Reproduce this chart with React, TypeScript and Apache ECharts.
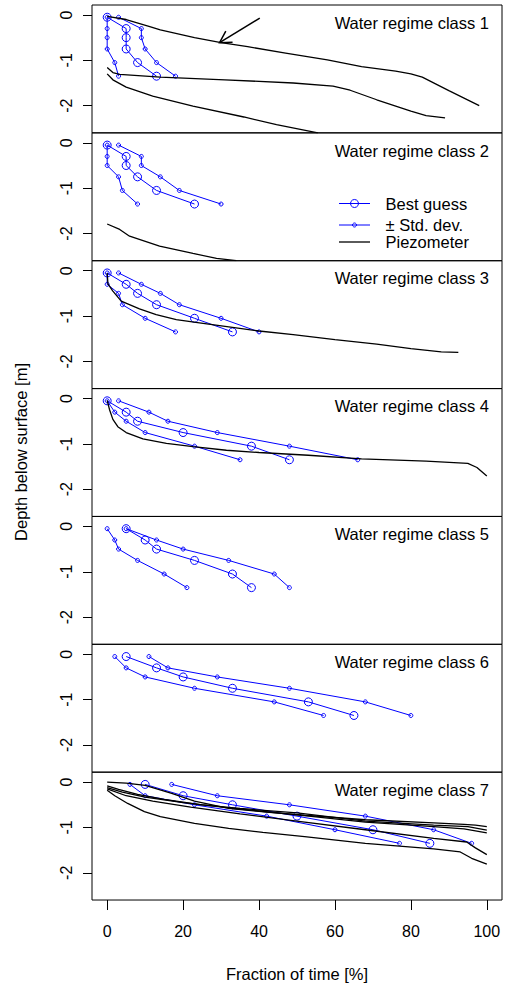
import React, { useEffect, useRef } from "react";
import * as echarts from "echarts";

// ---------- data ----------
const DEPTHS = [-0.05, -0.3, -0.5, -0.75, -1.05, -1.35];
const CLASS_LABELS = [
  "Water regime class 1",
  "Water regime class 2",
  "Water regime class 3",
  "Water regime class 4",
  "Water regime class 5",
  "Water regime class 6",
  "Water regime class 7",
];
const X_TICKS = [0, 20, 40, 60, 80, 100];
const Y_TICKS = [-2, -1, 0];

// Best guess fraction of time [%] per depth, per class
const best1 = [0, 5, 5, 5, 8, 13];
const best2 = [0, 5, 5, 8, 13, 23];
const best3 = [0, 5, 8, 13, 23, 33];
const best4 = [0, 5, 8, 20, 38, 48];
const best5 = [5, 10, 13, 23, 33, 38];
const best6 = [5, 13, 20, 33, 53, 65];
const best7 = [10, 20, 33, 50, 70, 85];

// minus one std. dev.
const low1 = [0, 0, 0, 0, 2, 3];
const low2 = [0, 0, 0, 3, 4, 8];
const low3 = [0, 0, 3, 4, 10, 18];
const low4 = [0, 2, 5, 10, 23, 35];
const low5 = [0, 2, 3, 8, 15, 21];
const low6 = [2, 5, 10, 23, 44, 57];
const low7 = [6, 10, 23, 42, 60, 77];

// plus one std. dev.
const high1 = [3, 9, 9, 10, 13, 18];
const high2 = [3, 9, 9, 14, 19, 30];
const high3 = [3, 9, 14, 19, 30, 40];
const high4 = [3, 11, 16, 29, 48, 66];
const high5 = [5, 13, 20, 32, 44, 48];
const high6 = [11, 16, 29, 48, 68, 80];
const high7 = [17, 29, 48, 68, 86, 96];

// Piezometer duration lines [fraction %, depth m]
const piezo1a = [[0, -0.03], [5, -0.1], [11, -0.25], [14, -0.33], [23, -0.5], [30, -0.61], [37, -0.7], [47, -0.84], [58, -0.99], [67, -1.14], [76, -1.24], [80, -1.3], [83, -1.37], [90, -1.67], [98, -2.0]];
const piezo1b = [[0, -1.16], [1.5, -1.27], [3.3, -1.31], [14, -1.37], [31, -1.43], [49, -1.5], [59.5, -1.57], [64, -1.66], [71, -1.87], [80, -2.12], [84, -2.22], [89, -2.27]];
const piezo1c = [[0, -1.3], [1.5, -1.43], [5, -1.59], [12, -1.79], [22.6, -2.01], [36, -2.25], [44.6, -2.42], [55.5, -2.6]];
const piezo2a = [[0, -1.79], [3.3, -1.91], [5.9, -2.06], [13.8, -2.28], [22.6, -2.44], [28.8, -2.55], [34, -2.6]];
const piezo3a = [[0, -0.05], [0.2, -0.29], [1.5, -0.45], [3.7, -0.67], [8.5, -0.84], [12.9, -0.97], [18.2, -1.08], [24.3, -1.15], [33, -1.25], [40, -1.33], [49, -1.41], [60, -1.52], [71, -1.62], [80, -1.72], [88, -1.79], [92.5, -1.8]];
const piezo4a = [[0, -0.04], [0.6, -0.24], [1.5, -0.46], [2.8, -0.62], [5, -0.75], [9.4, -0.89], [15.6, -0.99], [22.6, -1.06], [31.4, -1.14], [40, -1.19], [53, -1.25], [67, -1.33], [84, -1.38], [95, -1.43], [97.4, -1.52], [100, -1.71]];
const piezo7a = [[0, 0], [5, -0.02], [10, -0.07], [17, -0.25], [23, -0.42], [32, -0.58], [42, -0.66], [52, -0.73], [68, -0.83], [86, -0.9], [94, -0.93], [97, -0.95], [100, -0.98]];
const piezo7b = [[0, -0.08], [3, -0.16], [8, -0.27], [15, -0.38], [25, -0.5], [35, -0.58], [50, -0.68], [68, -0.86], [86, -0.95], [95, -0.98], [100, -1.06]];
const piezo7c = [[0, -0.12], [4, -0.22], [10, -0.33], [20, -0.45], [32, -0.57], [50, -0.72], [68, -0.88], [86, -0.98], [94, -1.03], [100, -1.12]];
const piezo7d = [[0, -0.15], [5, -0.3], [12, -0.42], [22, -0.55], [35, -0.7], [51, -0.87], [68, -1.05], [86, -1.24], [94.7, -1.32], [97, -1.45], [100, -1.6]];
const piezo7e = [[0, -0.18], [2, -0.3], [5.4, -0.47], [9.8, -0.65], [14, -0.76], [23, -0.91], [32, -1.02], [41, -1.11], [52, -1.2], [68, -1.35], [86, -1.47], [93, -1.54], [96, -1.68], [100, -1.81]];

// Arrow annotation in class 1: [fromX, fromY, toX, toY]
const arrow1 = [40.2, -0.07, 29.6, -0.61];

const BEST = [best1, best2, best3, best4, best5, best6, best7];
const LOW = [low1, low2, low3, low4, low5, low6, low7];
const HIGH = [high1, high2, high3, high4, high5, high6, high7];
const PIEZO = [[piezo1a, piezo1b, piezo1c], [piezo2a], [piezo3a], [piezo4a], [], [], [piezo7a, piezo7b, piezo7c, piezo7d, piezo7e]];

// ---------- layout / style ----------
const FONT = "'Liberation Sans', Arial, Helvetica, sans-serif";
const BLUE = "#0000ff";
const W = 507;
const H = 983;
const GRID_LEFT = 92;
const GRID_W = 410;
const GRID_TOP = 5;
const PH = 127.86;

export default function App() {
  const ref = useRef<HTMLDivElement>(null);

  useEffect(() => {
    if (!ref.current) return;
    const chart = echarts.init(ref.current, null, { renderer: "svg" });
    const n = CLASS_LABELS.length;

    const grid = CLASS_LABELS.map((_, i) => ({
      left: GRID_LEFT,
      width: GRID_W,
      top: GRID_TOP + i * PH,
      height: PH,
      show: true,
      borderColor: "#000",
      borderWidth: 1,
      backgroundColor: "transparent",
    }));

    const xAxis = CLASS_LABELS.map((_, i) => ({
      type: "value",
      gridIndex: i,
      min: -4,
      max: 104,
      show: i === n - 1,
      axisLine: { show: false, onZero: false },
      axisTick: {
        show: true,
        customValues: X_TICKS,
        length: 10,
        lineStyle: { color: "#000", width: 1 },
      },
      axisLabel: {
        customValues: X_TICKS,
        fontFamily: FONT,
        fontSize: 16,
        color: "#000",
        margin: 23,
      },
      splitLine: { show: false },
    }));

    const yAxis = CLASS_LABELS.map((_, i) => ({
      type: "value",
      gridIndex: i,
      min: -2.6,
      max: 0.22,
      axisLine: { show: false, onZero: false },
      axisTick: {
        show: true,
        customValues: Y_TICKS,
        length: 9,
        lineStyle: { color: "#000", width: 1 },
      },
      axisLabel: {
        customValues: Y_TICKS,
        rotate: 90,
        fontFamily: FONT,
        fontSize: 16,
        color: "#000",
        margin: 18,
      },
      splitLine: { show: false },
    }));

    const blueSeries = (name: string, vals: number[], i: number, size: number) => ({
      type: "line",
      name,
      xAxisIndex: i,
      yAxisIndex: i,
      data: vals.map((x, k) => [x, DEPTHS[k]]),
      symbol: "circle",
      symbolSize: size,
      showSymbol: true,
      showAllSymbol: true,
      itemStyle: { color: "rgba(0,0,0,0)", borderColor: BLUE, borderWidth: 1 },
      lineStyle: { color: BLUE, width: 1 },
      emphasis: { disabled: true },
      silent: true,
      z: 2,
    });

    const series: any[] = [];
    CLASS_LABELS.forEach((_, i) => {
      series.push(blueSeries("± Std. dev.", LOW[i], i, 4));
      series.push(blueSeries("± Std. dev.", HIGH[i], i, 4));
      series.push(blueSeries("Best guess", BEST[i], i, 8));
      PIEZO[i].forEach((line) => {
        series.push({
          type: "line",
          name: "Piezometer",
          xAxisIndex: i,
          yAxisIndex: i,
          data: line,
          showSymbol: false,
          symbol: "none",
          lineStyle: { color: "#000", width: 1.3 },
          emphasis: { disabled: true },
          silent: true,
          clip: true,
          z: 3,
        });
      });
    });

    // arrow in class 1
    series.push({
      type: "custom",
      xAxisIndex: 0,
      yAxisIndex: 0,
      data: [arrow1],
      silent: true,
      z: 4,
      renderItem: (_p: any, api: any) => {
        const p0 = api.coord([api.value(0), api.value(1)]);
        const p1 = api.coord([api.value(2), api.value(3)]);
        const ang = Math.atan2(p1[1] - p0[1], p1[0] - p0[0]);
        const L = 13;
        const a = Math.PI / 6;
        const h1 = [p1[0] - L * Math.cos(ang - a), p1[1] - L * Math.sin(ang - a)];
        const h2 = [p1[0] - L * Math.cos(ang + a), p1[1] - L * Math.sin(ang + a)];
        return {
          type: "group",
          children: [
            { type: "line", shape: { x1: p0[0], y1: p0[1], x2: p1[0], y2: p1[1] }, style: { stroke: "#000", lineWidth: 1.5 } },
            { type: "polyline", shape: { points: [h1, p1, h2] }, style: { stroke: "#000", fill: "none", lineWidth: 1.5 } },
          ],
        };
      },
    });

    const textStyle = { fontFamily: FONT, fontSize: 16.5, fill: "#000" };
    const graphic: any[] = [];
    CLASS_LABELS.forEach((label, i) => {
      graphic.push({
        type: "text",
        x: 489,
        y: GRID_TOP + i * PH + 17.7,
        style: { ...textStyle, text: label, align: "right", verticalAlign: "middle" },
        z: 10,
      });
    });
    // axis titles
    graphic.push({
      type: "text",
      x: 21,
      y: 452,
      rotation: Math.PI / 2,
      style: { ...textStyle, text: "Depth below surface [m]", align: "center", verticalAlign: "middle" },
    });
    graphic.push({
      type: "text",
      x: 297,
      y: 974,
      style: { ...textStyle, text: "Fraction of time [%]", align: "center", verticalAlign: "middle" },
    });
    // legend (inside class 2 panel)
    const lgX1 = 339;
    const lgX2 = 370;
    const lgTx = 385.5;
    const lgY = [203.5, 225, 242];
    graphic.push(
      { type: "line", shape: { x1: lgX1, y1: lgY[0], x2: lgX2, y2: lgY[0] }, style: { stroke: BLUE, lineWidth: 1 } },
      { type: "circle", shape: { cx: (lgX1 + lgX2) / 2, cy: lgY[0], r: 4 }, style: { stroke: BLUE, fill: "none", lineWidth: 1 } },
      { type: "line", shape: { x1: lgX1, y1: lgY[1], x2: lgX2, y2: lgY[1] }, style: { stroke: BLUE, lineWidth: 1 } },
      { type: "circle", shape: { cx: (lgX1 + lgX2) / 2, cy: lgY[1], r: 2 }, style: { stroke: BLUE, fill: "none", lineWidth: 1 } },
      { type: "line", shape: { x1: lgX1, y1: lgY[2], x2: lgX2, y2: lgY[2] }, style: { stroke: "#000", lineWidth: 1.3 } },
      { type: "text", x: lgTx, y: lgY[0], style: { ...textStyle, text: "Best guess", align: "left", verticalAlign: "middle" } },
      { type: "text", x: lgTx, y: lgY[1], style: { ...textStyle, text: "± Std. dev.", align: "left", verticalAlign: "middle" } },
      { type: "text", x: lgTx, y: lgY[2], style: { ...textStyle, text: "Piezometer", align: "left", verticalAlign: "middle" } }
    );

    chart.setOption({
      animation: false,
      backgroundColor: "#fff",
      textStyle: { fontFamily: FONT },
      grid,
      xAxis,
      yAxis,
      series,
      graphic,
    });

    return () => chart.dispose();
  }, []);

  return (
    <div
      ref={ref}
      style={{ position: "absolute", left: 0, top: 0, width: W, height: H }}
    />
  );
}
